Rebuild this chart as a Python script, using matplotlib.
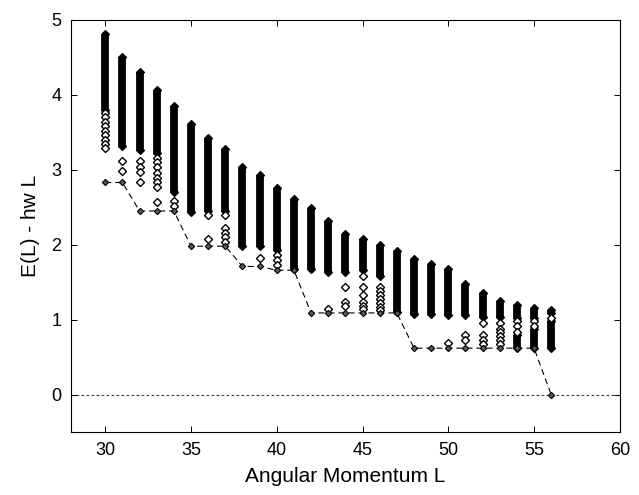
import numpy as np
import matplotlib
matplotlib.use("Agg")
import matplotlib.pyplot as plt

plt.rcParams['font.family'] = ['Liberation Sans', 'DejaVu Sans']

# angular momentum values
L_values = list(range(30, 57))

# lowest state for each L (yrast line)
yrast = [2.83, 2.83, 2.45, 2.45, 2.45, 1.98, 1.98, 1.98, 1.71, 1.71,
         1.66, 1.66, 1.09, 1.09, 1.09, 1.09, 1.09, 1.09, 0.62, 0.62,
         0.62, 0.62, 0.62, 0.62, 0.62, 0.62, 0.00]

# dense block of states (upper / lower edge) for each L
band_top = [4.81, 4.51, 4.31, 4.06, 3.85, 3.61, 3.43, 3.27, 3.04, 2.93,
            2.76, 2.61, 2.49, 2.31, 2.14, 2.07, 1.99, 1.91, 1.81, 1.74,
            1.67, 1.48, 1.35, 1.25, 1.19, 1.16, 1.13]
band_bottom = [3.80, 3.32, 3.26, 3.22, 2.70, 2.44, 2.45, 2.45, 1.98, 1.98,
               1.93, 1.67, 1.67, 1.64, 1.64, 1.66, 1.58, 1.10, 1.07, 1.07,
               1.06, 1.06, 1.04, 1.04, 1.02, 1.02, 1.09]

# second dense block for the last few L
extra_L = [54, 55, 56]
extra_top = [0.80, 0.87, 0.98]
extra_bottom = [0.62, 0.62, 0.62]

# isolated states between the dense block and the yrast line
sparse_levels = [
    [3.76, 3.70, 3.64, 3.58, 3.52, 3.46, 3.40, 3.34, 3.29],
    [3.11, 2.98],
    [3.11, 3.04, 2.97, 2.84],
    [3.16, 3.10, 3.03, 2.96, 2.89, 2.83, 2.77, 2.57],
    [2.58, 2.52],
    [],
    [2.40, 2.08],
    [2.40, 2.22, 2.16, 2.10, 2.04],
    [],
    [1.82],
    [1.86, 1.80, 1.73],
    [],
    [],
    [1.14],
    [1.44, 1.24, 1.18],
    [1.58, 1.44, 1.33, 1.24, 1.18, 1.14],
    [1.44, 1.38, 1.33, 1.27, 1.22, 1.17, 1.13],
    [],
    [],
    [],
    [0.69],
    [0.80, 0.73],
    [0.96, 0.80, 0.73, 0.67],
    [0.96, 0.87, 0.83, 0.78, 0.73, 0.67],
    [0.98, 0.91, 0.84],
    [0.98, 0.92],
    [1.02],
]

ms = 3.8
bar_w = 5.6
fig = plt.figure(figsize=(6.39, 4.95), dpi=100)
ax = fig.add_axes([0.111, 0.127, 0.859, 0.833])

ax.axhline(0, color='0.25', lw=0.8, ls=(0, (2.5, 2)), zorder=1)

# dense blocks drawn as thick bars capped with diamonds
ax.vlines(L_values, band_bottom, band_top, color='black', lw=bar_w, zorder=2)
ax.vlines(extra_L, extra_bottom, extra_top, color='black', lw=bar_w, zorder=2)
ax.plot(L_values, band_top, 'D', ls='none', ms=ms, mfc='black', mec='black', mew=0.9, zorder=3)
ax.plot(L_values, band_bottom, 'D', ls='none', ms=ms, mfc='black', mec='black', mew=0.9, zorder=3)
ax.plot(extra_L, extra_top, 'D', ls='none', ms=ms, mfc='black', mec='black', mew=0.9, zorder=3)
ax.plot(extra_L, extra_bottom, 'D', ls='none', ms=ms, mfc='black', mec='black', mew=0.9, zorder=3)

sx, sy = [], []
for L, levels in zip(L_values, sparse_levels):
    for e in levels:
        sx.append(L)
        sy.append(e)
ax.plot(sx, sy, 'D', ls='none', ms=ms, mfc='white', mec='black', mew=1.0, zorder=3)

ax.plot(L_values, yrast, color='black', lw=0.8, ls=(0, (5.5, 3.5)), zorder=4)
ax.plot(L_values, yrast, 'D', ls='none', ms=3.2, mfc='0.35', mec='black', mew=0.8, zorder=5)

ax.set_xlim(28, 60)
ax.set_ylim(-0.5, 5)
ax.set_xticks([30, 35, 40, 45, 50, 55, 60])
ax.set_yticks([0, 1, 2, 3, 4, 5])
ax.tick_params(direction='in', top=True, right=True, length=4, width=0.7, labelsize=13, pad=7)
for s in ax.spines.values():
    s.set_linewidth(0.8)
ax.set_xlabel('Angular Momentum L', fontsize=15, labelpad=6)
ax.set_ylabel('E(L) - hw L', fontsize=15, labelpad=8)

fig.savefig('out.png', dpi=100)
